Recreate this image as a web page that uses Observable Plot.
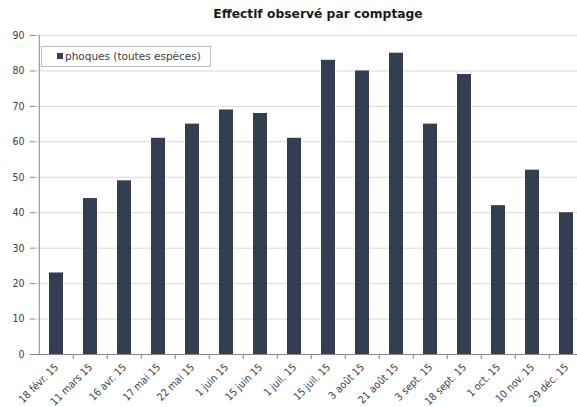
<!DOCTYPE html>
<html><head><meta charset="utf-8">
<script src="https://cdn.jsdelivr.net/npm/d3@7"></script>
<script src="https://cdn.jsdelivr.net/npm/@observablehq/plot@0.6"></script>
<style>
body{margin:0;background:#fff;}
#wrap{position:relative;width:577px;height:407px;overflow:hidden;font-family:"DejaVu Sans Condensed","DejaVu Sans",sans-serif;}
#title{position:absolute;left:0;width:636px;top:7px;text-align:center;font-family:"DejaVu Sans",sans-serif;font-weight:bold;font-size:12.3px;color:#1a1a1a;white-space:nowrap;}
#legend{position:absolute;left:41px;top:46px;width:170px;height:21px;box-sizing:border-box;border:1px solid #bfbfbf;background:#fff;font-family:"DejaVu Sans",sans-serif;font-size:10.5px;color:#404040;}
#legend .sw{position:absolute;left:15px;top:6px;width:6px;height:6px;background:#333f50;}
#legend .lb{position:absolute;left:23px;top:3px;white-space:nowrap;}
#chart{position:absolute;left:0;top:0;}
</style></head>
<body>
<div id="wrap">
  <div id="chart"></div>
  <div id="title">Effectif observé par comptage</div>
  <div id="legend"><span class="sw"></span><span class="lb" id="legendLabel"></span></div>
</div>
<script>
const seriesName = "phoques (toutes espèces)";
const dates = ["18 févr. 15","11 mars 15","16 avr. 15","17 mai 15","22 mai 15","1 juin 15","15 juin 15","1 juil. 15","15 juil. 15","3 août 15","21 août 15","3 sept. 15","18 sept. 15","1 oct. 15","10 nov. 15","29 déc. 15"];
const counts = [23,44,49,61,65,69,68,61,83,80,85,65,79,42,52,40];
const yTicks = [0,10,20,30,40,50,60,70,80,90];

document.getElementById("legendLabel").textContent = seriesName;
const data = dates.map((d,i)=>({date:d, count:counts[i]}));
const x0 = 35, x1 = 586;
const step = (x1 - x0) / dates.length;

const chart = Plot.plot({
  width: 577, height: 407,
  marginTop: 35, marginBottom: 53, marginLeft: 35, marginRight: 0,
  style: {fontFamily: '"DejaVu Sans Condensed","DejaVu Sans",sans-serif', fontSize: "10.5px", color: "#404040", background: "white", overflow: "hidden"},
  x: {domain: dates, range: [x0, x1], paddingInner: 0.6, paddingOuter: 0.3, label: null},
  y: {domain: [0, 90], range: [354, 35], label: null},
  marks: [
    Plot.gridY(yTicks.slice(1), {stroke: "#d9d9d9", strokeOpacity: 1}),
    Plot.barY(data, {x: "date", y: "count", fill: "#333f50"}),
    Plot.ruleY([0], {stroke: "#868686"}),
    Plot.ruleX([dates[0]], {x: d => d, dx: -step/2, y1: 0, y2: 90, stroke: "#868686"}),
    Plot.ruleX(dates.slice(1), {x: d => d, dx: -step/2, y1: 0, y2: 0, insetBottom: -5, stroke: "#868686"}),
    Plot.axisY({ticks: yTicks, tickSize: 5, tickPadding: 6, stroke: "#868686", fill: "#404040", label: null}),
    Plot.axisX({tickSize: 0, tickPadding: 11, tickRotate: -45, fontSize: 10.5, fill: "#404040", label: null})
  ]
});
document.getElementById("chart").appendChild(chart);
</script>
</body></html>
